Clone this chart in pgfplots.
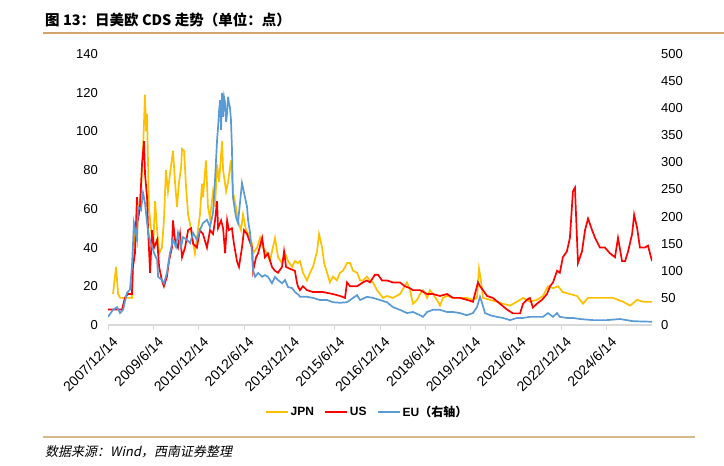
\documentclass[border=0pt]{standalone}
\usepackage{fontspec}
\setmainfont{Liberation Sans}
\newfontfamily\cjk{Noto Sans CJK SC}
\newfontfamily\cjkit{Noto Sans CJK SC}[FakeSlant=0.2]
\usepackage{pgfplots}
\pgfplotsset{compat=1.18}
\definecolor{jpn}{HTML}{FFC000}
\definecolor{us}{HTML}{FF0000}
\definecolor{eu}{HTML}{5B9BD5}
\definecolor{topline}{HTML}{D4A46C}
\definecolor{botline}{HTML}{D5BB8A}
\definecolor{axgray}{HTML}{D9D9D9}

\pgfplotstableread{
m v
2.0 16
3.2 30
4.0 16
4.8 14
6.0 14
7.5 14
9.5 14
9.9 30
10.7 52
11.5 44
11.9 57
13.1 69
13.9 91
14.7 119
15.1 100
15.5 109
15.9 83
16.3 60
17.1 49
17.9 40
18.7 64
19.5 49
20.3 37
21.4 40
22.2 54
23.0 80
23.8 69
24.6 78
25.4 86
25.8 90
26.6 74
27.4 61
28.2 74
29.0 81
29.4 91
30.2 90
31.0 71
31.8 57
32.6 52
33.4 45
34.5 37
35.7 49
36.5 57
37.3 73
37.7 66
38.9 85
39.7 61
40.5 55
41.7 69
42.5 61
43.3 83
44.1 74
45.3 95
45.7 80
46.9 69
47.7 74
48.8 85
49.6 69
50.8 61
51.6 54
52.8 49
53.6 57
54.8 49
55.6 47
57.2 42
57.6 37
59.2 40
60.4 45
61.5 40
63.1 37
64.3 33
66.3 45
67.5 35
69.1 32
70.3 37
71.5 33
73.1 30
74.2 33
75.4 32
76.2 33
77.4 27
79.0 23
80.2 27
81.4 30
83.0 38
83.8 47
85.0 40
85.8 32
87.0 27
88.1 22
89.3 25
90.9 23
92.1 27
93.3 28
94.9 32
96.1 32
97.3 28
98.9 27
100.1 23
101.2 23
102.8 25
104.0 23
105.2 22
106.8 18
108.0 16
109.2 14
110.8 15
113.1 14
115.9 16
118.7 22
119.9 18
121.1 11
122.7 13
123.9 16
125.1 18
126.7 14
127.8 18
129.0 16
130.6 13
131.8 10
133.0 14
134.6 15
137.0 14
139.7 14
142.5 14
144.9 13
146.5 14
147.3 29
148.1 23
148.9 14
151.7 13
154.4 12
156.8 11
159.6 10
162.4 12
164.8 14
167.5 12
170.3 13
172.7 15
174.7 20
176.7 19
178.7 20
180.6 17
183.4 16
186.2 15
188.6 11
190.6 14
192.6 14
195.3 14
198.1 14
200.5 14
204.5 12
207.3 10
210.1 13
212.4 12
216.0 12
}\jpndata

\pgfplotstableread{
m v
0 8
2.8 8
5.6 8
6.7 14
7.9 16
9.5 16
9.9 30
10.7 37
11.5 66
11.9 54
12.7 61
13.5 83
14.3 95
14.7 78
15.5 66
15.9 50
16.7 27
17.5 49
18.3 40
19.5 44
20.3 30
21.4 23
22.2 20
23.4 25
24.2 33
25.4 40
25.8 54
26.6 44
27.8 40
28.6 47
29.4 35
30.6 40
31.8 49
33.0 50
33.8 42
35.3 40
36.5 49
37.7 47
39.3 40
40.5 49
41.7 47
42.5 54
43.3 64
43.7 50
44.9 54
45.7 50
46.5 37
47.3 54
48.0 49
49.2 50
50.0 42
51.2 33
52.0 30
53.2 40
54.0 49
55.2 47
56.0 44
57.2 40
57.6 28
58.8 35
59.6 37
61.2 45
62.3 35
63.5 37
65.1 30
66.3 28
67.5 27
69.1 30
69.9 38
70.7 30
72.3 29
74.2 28
75.0 22
75.4 20
76.2 18
77.4 20
79.0 18
81.4 17
85.4 17
89.3 16
92.1 15
94.1 14
94.9 22
96.1 20
98.9 20
101.2 22
102.8 23
104.0 22
106.0 26
107.2 26
108.8 23
110.8 23
113.1 22
115.9 22
117.9 20
119.9 19
121.1 18
123.9 18
126.7 16
129.0 16
131.8 15
134.6 16
137.0 14
139.7 14
142.5 13
144.9 12
146.9 22
147.7 20
148.9 18
150.5 15
152.8 14
155.6 11
158.4 8
160.8 6
163.6 6
164.8 11
166.3 13
167.5 14
168.7 9
170.3 11
172.3 13
174.3 16
175.5 20
176.7 22
178.3 28
179.4 27
180.6 35
182.2 38
183.4 45
184.6 69
185.4 71
186.2 45
186.6 32
188.2 38
189.4 49
190.6 55
192.2 49
193.4 45
195.3 40
197.3 40
199.3 37
201.3 35
202.5 45
204.1 33
205.3 33
206.5 38
208.1 47
208.9 57
210.1 50
211.2 40
213.2 40
214.4 41
216.0 33
}\usdata

\pgfplotstableread{
m v
0 15
2.0 28
3.6 33
4.8 22
6.0 28
7.5 59
8.7 65
9.5 107
10.3 188
11.5 157
11.9 218
13.1 212
13.9 244
14.7 225
15.5 188
16.3 162
17.5 144
18.3 133
19.5 120
19.9 89
21.4 83
22.2 77
23.4 96
24.6 133
25.8 157
27.0 144
27.8 170
29.0 144
29.8 162
31.4 157
32.6 151
33.8 170
35.3 157
36.5 175
37.7 188
39.3 194
40.5 181
41.7 207
42.5 268
43.3 341
43.7 365
44.1 395
44.5 415
44.9 360
45.3 428
45.7 384
46.1 420
46.5 410
46.9 375
47.3 391
47.7 421
48.0 410
48.4 402
48.8 380
49.2 328
49.6 236
50.8 199
51.6 188
52.4 225
53.2 262
54.0 244
55.2 218
55.6 194
56.4 170
57.2 133
57.6 101
58.4 89
59.6 96
61.2 89
62.3 92
63.5 89
65.1 77
66.3 89
67.5 83
69.1 77
70.3 83
71.5 70
73.1 68
74.2 61
75.8 55
76.2 52
79.0 52
81.4 50
84.2 46
87.0 46
89.3 42
92.1 41
94.9 42
97.3 50
98.9 55
100.1 46
102.8 52
105.2 50
108.0 46
110.8 42
113.1 33
115.9 28
118.7 22
121.1 24
123.9 18
125.1 15
126.7 24
129.0 28
131.8 28
134.6 24
137.0 24
139.7 22
142.5 18
144.9 22
146.5 33
147.7 52
148.5 41
149.7 22
151.7 18
154.4 15
156.8 13
159.6 9
162.4 13
164.8 13
167.5 15
170.3 15
172.7 15
174.7 22
176.7 15
178.3 22
179.4 15
182.2 13
184.6 13
187.4 11
192.6 9
198.1 9
203.3 11
208.5 7
216.0 6
}\eudata

\begin{document}
\begin{tikzpicture}[x=1bp,y=1bp]
\path[use as bounding box] (0,0) rectangle (724,466);
\node[anchor=west, inner sep=0] at (45,446.5) {\fontsize{14.5bp}{16bp}\selectfont\cjk\bfseries 图 13：日美欧 CDS 走势（单位：点）};
\draw[topline, line width=1.5bp] (43,433) -- (724,433);
\draw[botline, line width=2bp] (43,29) -- (695,29);
\node[anchor=west, inner sep=0] at (45,14) {\fontsize{13bp}{15bp}\selectfont\cjkit 数据来源：Wind，西南证券整理};

\begin{axis}[
  at={(108bp,141bp)}, anchor=south west,
  width=544bp, height=271bp, scale only axis,
  xmin=0, xmax=216, ymin=0, ymax=140,
  axis x line*=bottom, axis y line*=left,
  x axis line style={draw=axgray, line width=1.2bp},
  y axis line style={draw=none},
  xtick={0,18,...,198},
  xticklabels={2007/12/14,2009/6/14,2010/12/14,2012/6/14,2013/12/14,2015/6/14,2016/12/14,2018/6/14,2019/12/14,2021/6/14,2022/12/14,2024/6/14},
  ytick={0,20,...,140},
  tick align=outside,
  major tick length=5bp,
  xtick style={draw=axgray, line width=1bp},
  ytick style={draw=none},
  /pgf/number format/assume math mode=true,
  xticklabel style={font=\fontsize{14bp}{16bp}\selectfont, rotate=45, anchor=north east, inner sep=0bp, xshift=-1.5bp, yshift=-6.5bp},
  yticklabel style={font=\fontsize{13bp}{15bp}\selectfont, inner sep=1bp, xshift=-4bp},
]
\addplot[jpn, line width=1.7bp] table[x=m, y=v] {\jpndata};
\addplot[us, line width=1.7bp] table[x=m, y=v] {\usdata};
\end{axis}

\begin{axis}[
  at={(108bp,141bp)}, anchor=south west,
  width=544bp, height=271bp, scale only axis,
  xmin=0, xmax=216, ymin=0, ymax=500,
  axis x line=none, axis y line*=right,
  y axis line style={draw=none},
  ytick={0,50,...,500},
  ytick style={draw=none},
  /pgf/number format/assume math mode=true,
  yticklabel style={font=\fontsize{13bp}{15bp}\selectfont, inner sep=1bp, xshift=8bp},
  legend style={at={(0.476,-0.322)}, anchor=center, draw=none, fill=none,
    legend columns=3, font=\bfseries\fontsize{12bp}{14bp}\selectfont,
    /tikz/every even column/.append style={column sep=8bp}},
  legend image code/.code={\draw[#1, line width=2bp] (0bp,0bp) -- (22bp,0bp);},
]
\addlegendimage{jpn}
\addlegendentry{JPN}
\addlegendimage{us}
\addlegendentry{US}
\addplot[eu, line width=1.7bp] table[x=m, y=v] {\eudata};
\addlegendentry{EU{\cjk\bfseries（右轴）}}
\end{axis}
\end{tikzpicture}
\end{document}
